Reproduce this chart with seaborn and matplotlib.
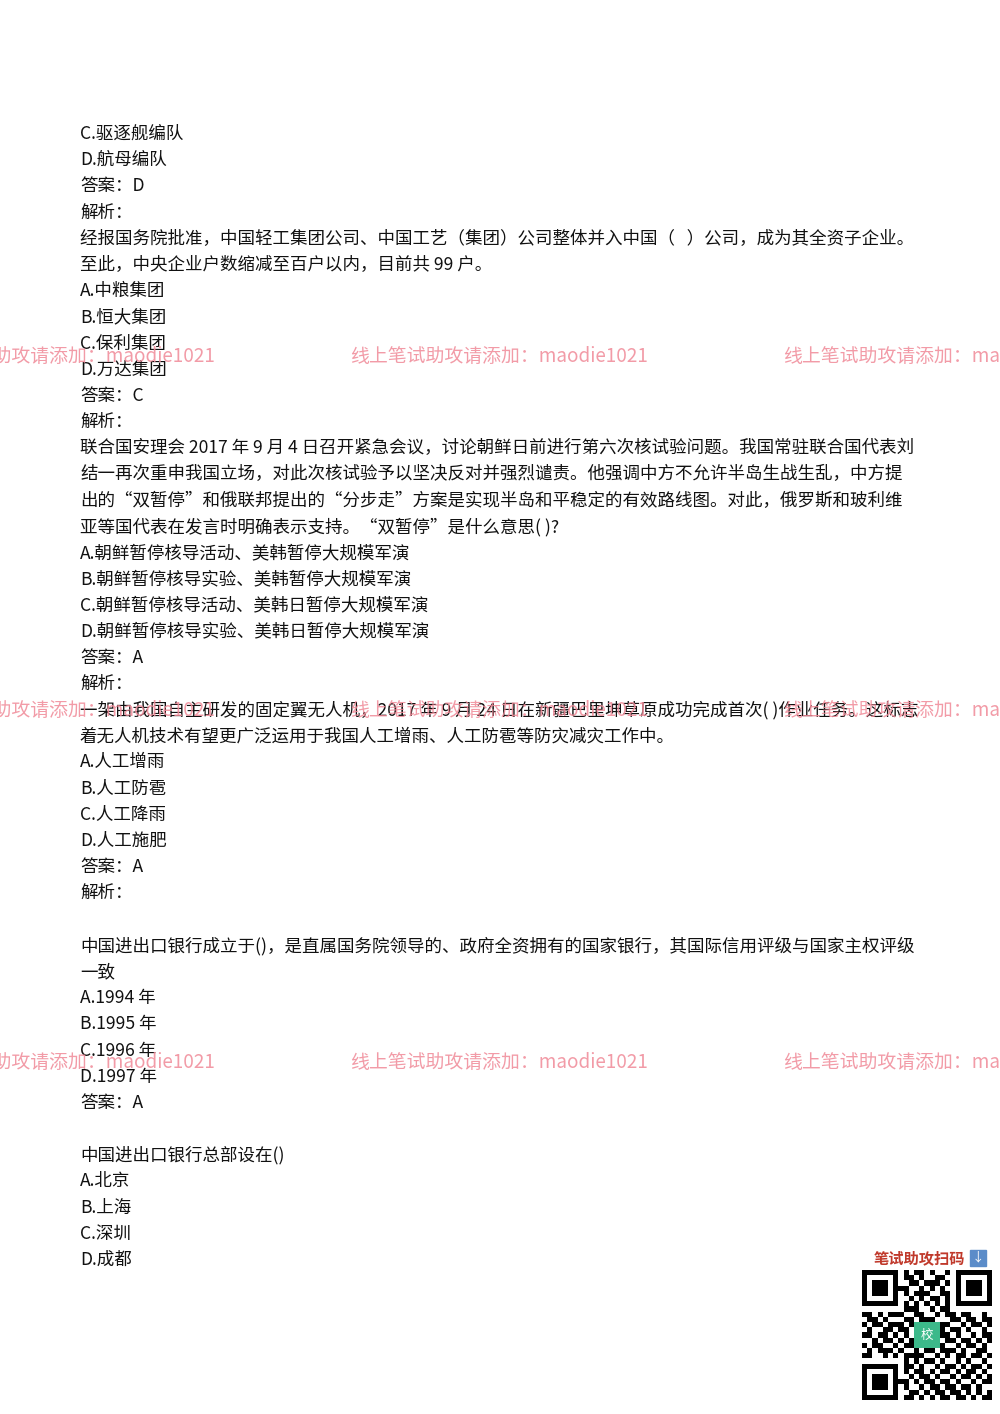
import matplotlib
matplotlib.use("Agg")
import matplotlib.pyplot as plt
import seaborn as sns

sns.set_theme(style="white")
plt.rcParams['font.family'] = ['Noto Sans CJK SC', 'DejaVu Sans']

lines = [
    "C.驱逐舰编队", "D.航母编队", "答案：D", "解析：",
    "经报国务院批准，中国轻工集团公司、中国工艺（集团）公司整体并入中国（   ）公司，成为其全资子企业。",
    "至此，中央企业户数缩减至百户以内，目前共 99 户。",
    "A.中粮集团", "B.恒大集团", "C.保利集团", "D.万达集团", "答案：C", "解析：",
    "联合国安理会 2017 年 9 月 4 日召开紧急会议，讨论朝鲜日前进行第六次核试验问题。我国常驻联合国代表刘",
    "结一再次重申我国立场，对此次核试验予以坚决反对并强烈谴责。他强调中方不允许半岛生战生乱，中方提",
    "出的“双暂停”和俄联邦提出的“分步走”方案是实现半岛和平稳定的有效路线图。对此，俄罗斯和玻利维",
    "亚等国代表在发言时明确表示支持。“双暂停”是什么意思( )?",
    "A.朝鲜暂停核导活动、美韩暂停大规模军演",
    "B.朝鲜暂停核导实验、美韩暂停大规模军演",
    "C.朝鲜暂停核导活动、美韩日暂停大规模军演",
    "D.朝鲜暂停核导实验、美韩日暂停大规模军演",
    "答案：A", "解析：",
    "一架由我国自主研发的固定翼无人机，2017 年 9 月 24 日在新疆巴里坤草原成功完成首次( )作业任务。这标志",
    "着无人机技术有望更广泛运用于我国人工增雨、人工防雹等防灾减灾工作中。",
    "A.人工增雨", "B.人工防雹", "C.人工降雨", "D.人工施肥", "答案：A", "解析：",
    "",
    "中国进出口银行成立于()，是直属国务院领导的、政府全资拥有的国家银行，其国际信用评级与国家主权评级",
    "一致",
    "A.1994 年", "B.1995 年", "C.1996 年", "D.1997 年", "答案：A",
    "",
    "中国进出口银行总部设在()",
    "A.北京", "B.上海", "C.深圳", "D.成都",
]
watermark = "线上笔试助攻请添加：maodie1021"
wm_rows = [357, 710, 1063]
wm_cols = [-83, 350, 783]

W, H = 1000, 1414
fig = plt.figure(figsize=(10, 14.14), dpi=100)
fig.patch.set_facecolor("white")
ax = fig.add_axes([0, 0, 1, 1])
ax.set_xlim(0, W)
ax.set_ylim(H, 0)
ax.axis("off")

y0, y1 = 134, 1260
step = (y1 - y0) / (len(lines) - 1)
for i, t in enumerate(lines):
    ax.text(80, y0 + i * step, t, fontsize=12.6, color="#111111", va="center", ha="left")

for yy in wm_rows:
    for xx in wm_cols:
        ax.text(xx, yy, watermark, fontsize=13.6, color="#f08a98", alpha=0.85,
                va="center", ha="left", family=["Noto Sans CJK SC", "DejaVu Sans"])

# QR code area
ax.text(874, 1258, "笔试助攻扫码", fontsize=11, color="#c0392b", fontweight="bold", va="center")
ax.add_patch(plt.Rectangle((970, 1250), 16, 16, color="#5b8cc9"))
ax.text(978, 1258, "↓", fontsize=9, color="white", ha="center", va="center")
qx, qy, qs = 862, 1270, 130
ax.add_patch(plt.Rectangle((qx, qy), qs, qs, facecolor="white", edgecolor="none"))
cell = qs / 25
pattern = [
    "1111111010110100101111111", "1000001011010011001000001", "1011101001101110101011101",
    "1011101110010101001011101", "1011101010111001101011101", "1000001001010110101000001",
    "1111111010101010101111111", "0000000011100101100000000", "1101011100110010110110010",
    "0110100011011100011011011", "1011011101001011100101101", "0100110110110101011010010",
    "1101101010011101101001011", "0010110101100010110110101", "1011001011011011001011010",
    "0101110100101101110100110", "1100101011110010101101101", "0000000010101101001010010",
    "1111111011010010110101101", "1000001010110101101011010", "1011101001011010010110101",
    "1011101110101101101001011", "1011101010010110110110100", "1000001001101011011010101",
    "1111111011010101101101011",
]
for r, row in enumerate(pattern):
    for c, v in enumerate(row):
        if v == "1":
            ax.add_patch(plt.Rectangle((qx + c * cell, qy + r * cell), cell, cell, color="black", lw=0))
ax.add_patch(plt.Rectangle((qx + 10 * cell, qy + 10 * cell), 5 * cell, 5 * cell, color="#3cb98a", lw=0))
ax.text(qx + 12.5 * cell, qy + 12.5 * cell, "校", fontsize=9, color="white", ha="center", va="center")

fig.savefig("out.png", dpi=100, facecolor="white")
